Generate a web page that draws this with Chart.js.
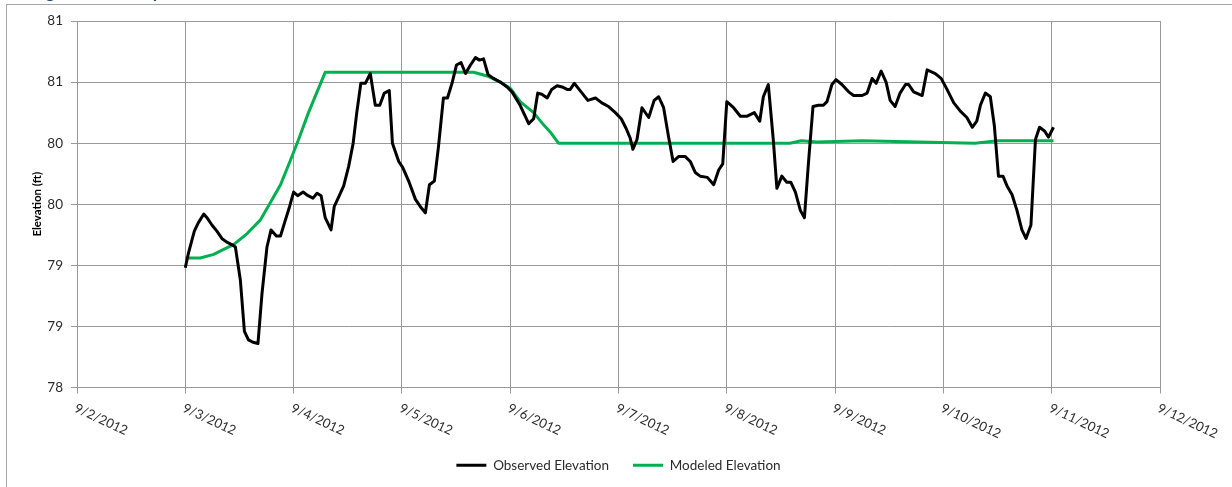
<!DOCTYPE html>
<html>
<head>
<meta charset="utf-8">
<script src="https://cdn.jsdelivr.net/npm/chart.js@4.4.1/dist/chart.umd.min.js"></script>
<style>
  html, body { margin: 0; padding: 0; background: #fff; overflow: hidden; }
  #wrap { position: relative; width: 1232px; height: 487px; }
  #title { position: absolute; left: 32px; top: -18px; font: italic bold 19px Lato, sans-serif; line-height: 18px; color: #1f4e79; white-space: nowrap; }
  #frame { position: absolute; left: 6px; top: 4px; right: 0; bottom: 0; border-left: 1px solid #a6a6a6; border-top: 1px solid #a6a6a6; pointer-events: none; }
</style>
</head>
<body>
<div id="wrap">
  <canvas id="elevChart"></canvas>
  <div id="title">Figure 4-12. September 2012 Storm Event &ndash; Observed and Modeled Elevations</div>
  <div id="frame"></div>
</div>
<script>
/* ============================================
   Observed vs modeled water elevation, Sept 2012
   ============================================ */

// axis labels
const xTickLabels = ['9/2/2012', '9/3/2012', '9/4/2012', '9/5/2012', '9/6/2012', '9/7/2012',
  '9/8/2012', '9/9/2012', '9/10/2012', '9/11/2012', '9/12/2012'];
const yTickLabels = ['78', '79', '79', '80', '80', '81', '81'];

// series start 9/3/2012 00:00 -> hours counted from there
const seriesStartHour = 24;

// observed elevation (ft)
const obsHour = [0, 0.7, 2, 2.9, 4.1, 4.8, 5.9, 7, 8.1, 9.2,
  10.3, 11.1, 12.2, 13.1, 14, 15, 16.1, 17, 18.1, 19,
  20.2, 21.1, 22, 23.1, 24, 24.9, 26.1, 27.2, 28.3, 29.2,
  30.1, 31, 32.3, 33, 34, 35.1, 36.2, 37.2, 38, 38.9,
  39.9, 41, 42.1, 43.1, 44.1, 45.2, 45.9, 47.3, 48.2, 49.5,
  51, 52.1, 53.2, 54.1, 55.2, 56.1, 57.2, 58.1, 59.1, 60.1,
  61.1, 62.1, 63.2, 64.3, 65.2, 66.1, 67.1, 68.3, 69.8, 71.3,
  72.4, 74.2, 76.1, 77.2, 78.1, 79, 80.2, 81.2, 82.4, 83.5,
  84.6, 85.3, 86.2, 87.5, 89.2, 90.9, 92.3, 93.8, 95.3, 96.6,
  97.7, 98.6, 99.2, 100.1, 101.2, 102.7, 103.9, 104.9, 106, 107.1,
  108.1, 109.3, 110.8, 111.9, 113, 114.1, 115.7, 117.1, 118.2, 119.1,
  120, 121.5, 123, 124.4, 126.1, 127.3, 128.1, 129.2, 130.3, 131.1,
  132.2, 133.3, 134.2, 135.2, 136.3, 137.2, 138.1, 139.1, 140.3, 141.4,
  142.2, 143.3, 144.2, 145.5, 147, 148.1, 150, 151.1, 152.2, 153.1,
  154.2, 155.3, 156.2, 157.3, 158.4, 159.6, 160.3, 161.4, 163.3, 164.4,
  166.2, 167.5, 168.8, 170.3, 171.8, 173.2, 174.4, 175.4, 176.2, 177.3,
  178.4, 179.3, 180.2, 181.2, 182.1, 183.2, 184.3, 185.4, 186.3, 187.4,
  188.4, 189.3, 190.4, 191.3, 192.4];
const obsElev = [78.98, 79.10, 79.28, 79.35, 79.42, 79.39, 79.33, 79.28, 79.22, 79.19,
  79.17, 79.15, 78.88, 78.46, 78.39, 78.37, 78.36, 78.77, 79.15, 79.29,
  79.24, 79.24, 79.35, 79.48, 79.60, 79.57, 79.60, 79.57, 79.55, 79.59,
  79.57, 79.39, 79.29, 79.48, 79.56, 79.65, 79.81, 80.00, 80.25, 80.49,
  80.49, 80.57, 80.31, 80.31, 80.41, 80.43, 80.00, 79.85, 79.80, 79.69,
  79.54, 79.48, 79.43, 79.66, 79.69, 79.97, 80.37, 80.37, 80.49, 80.64,
  80.66, 80.57, 80.64, 80.70, 80.68, 80.69, 80.56, 80.53, 80.50, 80.46,
  80.42, 80.31, 80.16, 80.20, 80.41, 80.40, 80.37, 80.44, 80.47, 80.46,
  80.44, 80.44, 80.49, 80.43, 80.35, 80.37, 80.33, 80.30, 80.25, 80.20,
  80.12, 80.04, 79.95, 80.03, 80.29, 80.21, 80.35, 80.38, 80.29, 80.05,
  79.85, 79.89, 79.89, 79.85, 79.76, 79.73, 79.72, 79.66, 79.78, 79.83,
  80.34, 80.29, 80.22, 80.22, 80.25, 80.18, 80.38, 80.48, 80.03, 79.63,
  79.73, 79.68, 79.68, 79.60, 79.45, 79.39, 79.84, 80.30, 80.31, 80.31,
  80.34, 80.48, 80.52, 80.48, 80.42, 80.39, 80.39, 80.41, 80.53, 80.49,
  80.59, 80.50, 80.35, 80.30, 80.41, 80.48, 80.48, 80.42, 80.39, 80.60,
  80.57, 80.53, 80.44, 80.33, 80.26, 80.21, 80.13, 80.18, 80.31, 80.41,
  80.38, 80.14, 79.73, 79.73, 79.65, 79.58, 79.45, 79.29, 79.22, 79.33,
  80.03, 80.13, 80.10, 80.05, 80.13];

// modeled elevation (ft)
const modHour = [0, 3.3, 6.3, 8.5, 10.7, 13.7, 16.6, 18.8, 21.1, 23.3,
  25.1, 27.3, 29.2, 31, 63.9, 66.9, 69.8, 72, 74.2, 77.2,
  79.4, 80.9, 82.7, 134, 136.5, 140, 150, 175, 180, 192.4];
const modElev = [79.06, 79.06, 79.09, 79.13, 79.17, 79.26, 79.37, 79.51, 79.66, 79.86,
  80.03, 80.25, 80.42, 80.58, 80.58, 80.55, 80.50, 80.45, 80.34, 80.25,
  80.15, 80.09, 80.00, 80.00, 80.02, 80.01, 80.02, 80.00, 80.02, 80.02];

const FONT = "Lato, 'Open Sans', sans-serif";
const GRID = '#9a9a9a';
const TEXT = '#2b2b2b';

function toPoints(hours, values) {
  return hours.map((h, i) => ({ x: seriesStartHour + h, y: values[i] }));
}

// Excel-style slanted date labels (text starts at the tick, runs down-right)
const slantedDateLabels = {
  id: 'slantedDateLabels',
  afterDraw(chart) {
    const xs = chart.scales.x;
    const ctx = chart.ctx;
    ctx.save();
    ctx.font = '13px ' + FONT;
    ctx.fillStyle = TEXT;
    ctx.textAlign = 'left';
    ctx.textBaseline = 'top';
    xTickLabels.forEach((label, i) => {
      const px = xs.getPixelForValue(i * 24);
      ctx.save();
      ctx.translate(px + 1, xs.top + 14);
      ctx.rotate(25 * Math.PI / 180);
      ctx.fillText(label, 0, 0);
      ctx.restore();
    });
    ctx.restore();
  }
};

new Chart(document.getElementById('elevChart'), {
  type: 'line',
  data: {
    datasets: [
      {
        label: 'Observed Elevation',
        data: toPoints(obsHour, obsElev),
        borderColor: '#000000',
        backgroundColor: '#000000',
        borderWidth: 3,
        pointRadius: 0,
        tension: 0,
        borderJoinStyle: 'round'
      },
      {
        label: 'Modeled Elevation',
        data: toPoints(modHour, modElev),
        borderColor: '#00b050',
        backgroundColor: '#00b050',
        borderWidth: 3,
        pointRadius: 0,
        tension: 0,
        borderJoinStyle: 'round'
      }
    ]
  },
  options: {
    responsive: true,
    maintainAspectRatio: false,
    animation: false,
    layout: { padding: { top: 21, right: 72, bottom: 5, left: 0 } },
    scales: {
      x: {
        type: 'linear',
        min: 0,
        max: 240,
        ticks: { display: false, stepSize: 24 },
        grid: { color: GRID, lineWidth: 1, tickLength: 6, drawTicks: true },
        border: { color: GRID },
        afterFit: scale => { scale.height = 47; }
      },
      y: {
        min: 78,
        max: 81,
        ticks: {
          stepSize: 0.5,
          padding: 8,
          color: TEXT,
          font: { family: FONT, size: 13.5 },
          callback: (value, index) => yTickLabels[index]
        },
        grid: { color: GRID, lineWidth: 1, tickLength: 6 },
        border: { color: GRID },
        title: {
          display: true,
          text: 'Elevation (ft)',
          color: '#000000',
          font: { family: FONT, size: 11.5, weight: 'bold' },
          padding: { top: 30, bottom: 0 }
        },
        afterFit: scale => { scale.width = 77; }
      }
    },
    plugins: {
      legend: {
        position: 'bottom',
        fullSize: false,
        labels: {
          color: TEXT,
          font: { family: FONT, size: 13.5 },
          usePointStyle: true,
          pointStyle: 'line',
          pointStyleWidth: 30,
          padding: 24
        }
      },
      tooltip: { enabled: false }
    }
  },
  plugins: [slantedDateLabels]
});
</script>
</body>
</html>
